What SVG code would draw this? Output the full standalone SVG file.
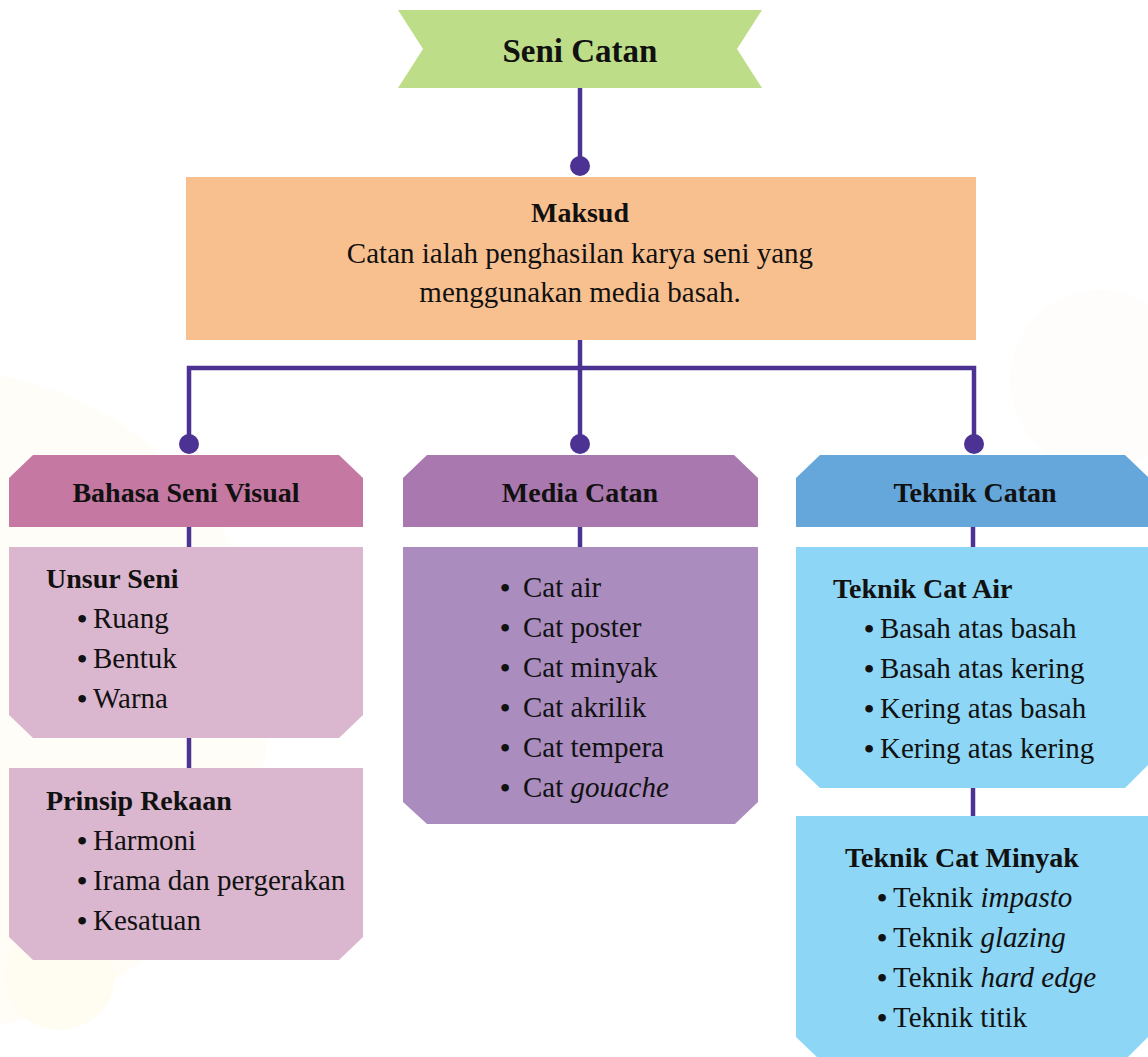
<svg xmlns="http://www.w3.org/2000/svg" width="1148" height="1057" viewBox="0 0 1148 1057">
<style>
  text { font-family: "Liberation Serif", "Times New Roman", serif; fill: #111; }
  .title { font-size: 33px; font-weight: bold; text-anchor: middle; }
  .hd { font-size: 28px; font-weight: bold; text-anchor: middle; }
  .sub { font-size: 28px; font-weight: bold; }
  .tx { font-size: 29px; }
  .txc { font-size: 29px; text-anchor: middle; }
  .bul { font-size: 32px; text-anchor: middle; }
  .it { font-style: italic; }
  .conn { stroke: #4b3293; stroke-width: 4.5; fill: none; }
  .dot { fill: #4b3293; }
</style>
<rect width="1148" height="1057" fill="#ffffff"/>
<g id="background" opacity="0.5">
  <circle cx="-60" cy="700" r="330" fill="#fffcef"/>
  <circle cx="60" cy="975" r="55" fill="#fffbe6"/>
  <circle cx="1100" cy="380" r="90" fill="#fdfbf8"/>
</g>

<g id="connectors">
  <line class="conn" x1="580" y1="88" x2="580" y2="167"/>
  <line class="conn" x1="580" y1="340" x2="580" y2="444"/>
  <polyline class="conn" points="189,444 189,368 974,368 974,444"/>
  <line class="conn" x1="189" y1="527" x2="189" y2="548"/>
  <line class="conn" x1="580" y1="527" x2="580" y2="548"/>
  <line class="conn" x1="973" y1="527" x2="973" y2="548"/>
  <line class="conn" x1="189" y1="738" x2="189" y2="769"/>
  <line class="conn" x1="973" y1="788" x2="973" y2="817"/>
  <circle class="dot" cx="580" cy="166" r="10"/>
  <circle class="dot" cx="189" cy="444" r="10"/>
  <circle class="dot" cx="580" cy="444" r="10"/>
  <circle class="dot" cx="974" cy="444" r="10"/>
</g>

<g id="seni-catan">
  <polygon points="398,10 762,10 737,49 762,88 398,88 423,49" fill="#bedd88"/>
  <text class="title" x="580" y="62">Seni Catan</text>
</g>

<g id="maksud">
  <rect x="186" y="177" width="790" height="163" fill="#f9c08f"/>
  <text class="hd" x="580" y="222">Maksud</text>
  <text class="txc" x="580" y="263">Catan ialah penghasilan karya seni yang</text>
  <text class="txc" x="580" y="302">menggunakan media basah.</text>
</g>

<g id="bahasa-seni-visual">
  <polygon points="9,478 33,455 339,455 363,478 363,527 9,527" fill="#c478a2"/>
  <text class="hd" x="186" y="502">Bahasa Seni Visual</text>
</g>

<g id="unsur-seni">
  <polygon points="9,547 363,547 363,715 339,738 33,738 9,715" fill="#dbb7cf"/>
  <text class="sub" x="46" y="588">Unsur Seni</text>
  <text class="bul" x="82" y="630">•</text><text class="tx" x="93" y="628">Ruang</text>
  <text class="bul" x="82" y="670">•</text><text class="tx" x="93" y="668">Bentuk</text>
  <text class="bul" x="82" y="710">•</text><text class="tx" x="93" y="708">Warna</text>
</g>

<g id="prinsip-rekaan">
  <polygon points="9,768 363,768 363,937 339,960 33,960 9,937" fill="#dbb7cf"/>
  <text class="sub" x="46" y="810">Prinsip Rekaan</text>
  <text class="bul" x="82" y="852">•</text><text class="tx" x="93" y="850">Harmoni</text>
  <text class="bul" x="82" y="892">•</text><text class="tx" x="93" y="890">Irama dan pergerakan</text>
  <text class="bul" x="82" y="932">•</text><text class="tx" x="93" y="930">Kesatuan</text>
</g>

<g id="media-catan">
  <polygon points="403,478 427,455 734,455 758,478 758,527 403,527" fill="#a978ae"/>
  <text class="hd" x="580" y="502">Media Catan</text>
</g>

<g id="media-list">
  <polygon points="403,547 758,547 758,802 735,824 427,824 403,802" fill="#ab8cbf"/>
  <text class="bul" x="505" y="599">•</text><text class="tx" x="523" y="597">Cat air</text>
  <text class="bul" x="505" y="639">•</text><text class="tx" x="523" y="637">Cat poster</text>
  <text class="bul" x="505" y="679">•</text><text class="tx" x="523" y="677">Cat minyak</text>
  <text class="bul" x="505" y="719">•</text><text class="tx" x="523" y="717">Cat akrilik</text>
  <text class="bul" x="505" y="759">•</text><text class="tx" x="523" y="757">Cat tempera</text>
  <text class="bul" x="505" y="799">•</text><text class="tx" x="523" y="797">Cat <tspan class="it">gouache</tspan></text>
</g>

<g id="teknik-catan">
  <polygon points="796,478 820,455 1125,455 1148,477 1148,527 796,527" fill="#65a7da"/>
  <text class="hd" x="975" y="502">Teknik Catan</text>
</g>

<g id="teknik-cat-air">
  <polygon points="796,547 1148,547 1148,765 1125,788 820,788 796,765" fill="#8dd6f5"/>
  <text class="sub" x="833" y="598">Teknik Cat Air</text>
  <text class="bul" x="869" y="640">•</text><text class="tx" x="880" y="638">Basah atas basah</text>
  <text class="bul" x="869" y="680">•</text><text class="tx" x="880" y="678">Basah atas kering</text>
  <text class="bul" x="869" y="720">•</text><text class="tx" x="880" y="718">Kering atas basah</text>
  <text class="bul" x="869" y="760">•</text><text class="tx" x="880" y="758">Kering atas kering</text>
</g>

<g id="teknik-cat-minyak">
  <polygon points="796,816 1148,816 1148,1037 1125,1060 820,1060 796,1037" fill="#8dd6f5"/>
  <text class="sub" x="845" y="867">Teknik Cat Minyak</text>
  <text class="bul" x="882" y="909">•</text><text class="tx" x="893" y="907">Teknik <tspan class="it">impasto</tspan></text>
  <text class="bul" x="882" y="949">•</text><text class="tx" x="893" y="947">Teknik <tspan class="it">glazing</tspan></text>
  <text class="bul" x="882" y="989">•</text><text class="tx" x="893" y="987">Teknik <tspan class="it">hard edge</tspan></text>
  <text class="bul" x="882" y="1029">•</text><text class="tx" x="893" y="1027">Teknik titik</text>
</g>
</svg>
